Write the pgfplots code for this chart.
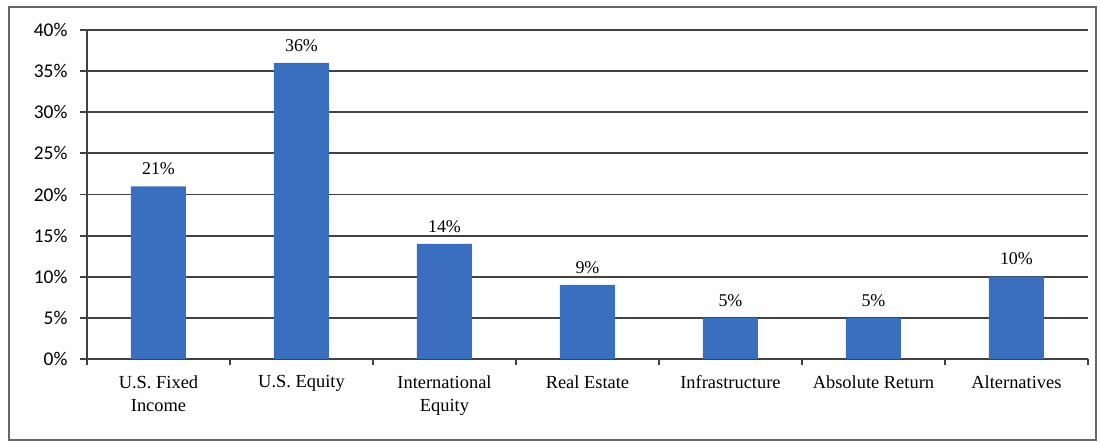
\documentclass[border=0pt]{standalone}
\usepackage{fontspec}
\setmainfont{Liberation Serif}
\newfontfamily\calfont{Carlito}
\usepackage{pgfplots}
\pgfplotsset{compat=1.18}
\definecolor{barblue}{RGB}{58,111,192}
\definecolor{gridgray}{RGB}{65,65,65}
\begin{document}
\begin{tikzpicture}[x=1bp,y=1bp]
\useasboundingbox (0,0) rectangle (1101,443);
\draw[gridgray!80, line width=1.2bp] (9,3) rectangle (1096,436);
\begin{axis}[
  at={(87bp,84bp)}, anchor=south west,
  scale only axis,
  width=1001bp, height=329bp,
  xmin=-0.5, xmax=6.5,
  ymin=0, ymax=40,
  axis x line*=bottom, axis y line*=left,
  axis line style={gridgray, line width=1.8bp, -},
  xtick={0,1,2,3,4,5,6},
  xticklabels={{U.S. Fixed\\Income},{U.S. Equity},{International\\Equity},{Real Estate},{Infrastructure},{Absolute Return},{Alternatives}},
  xticklabel style={align=center, font=\fontsize{18.5}{23}\selectfont, yshift=-6bp},
  major x tick style={draw=none},
  minor xtick={-0.5,0.5,1.5,2.5,3.5,4.5,5.5,6.5},
  minor x tick style={gridgray, line width=1.8bp},
  minor tick length=6bp,
  ytick={0,5,...,40},
  yticklabel={\pgfmathprintnumber{\tick}\%},
  /pgf/number format/assume math mode=true,
  yticklabel style={font=\calfont\fontsize{19.5}{22}\selectfont, xshift=-9bp},
  y tick style={gridgray, line width=1.8bp},
  major tick length=7bp,
  tick align=outside,
  ymajorgrids,
  major grid style={gridgray, line width=1.8bp},
  ybar, bar width=55bp,
  nodes near coords={\pgfmathprintnumber{\pgfplotspointmeta}\%},
  nodes near coords style={font=\fontsize{18}{20}\selectfont, yshift=8bp},
  clip=false,
]
\addplot[fill=barblue, draw=none] coordinates {(0,21) (1,36) (2,14) (3,9) (4,5) (5,5) (6,10)};
\end{axis}
\end{tikzpicture}
\end{document}
